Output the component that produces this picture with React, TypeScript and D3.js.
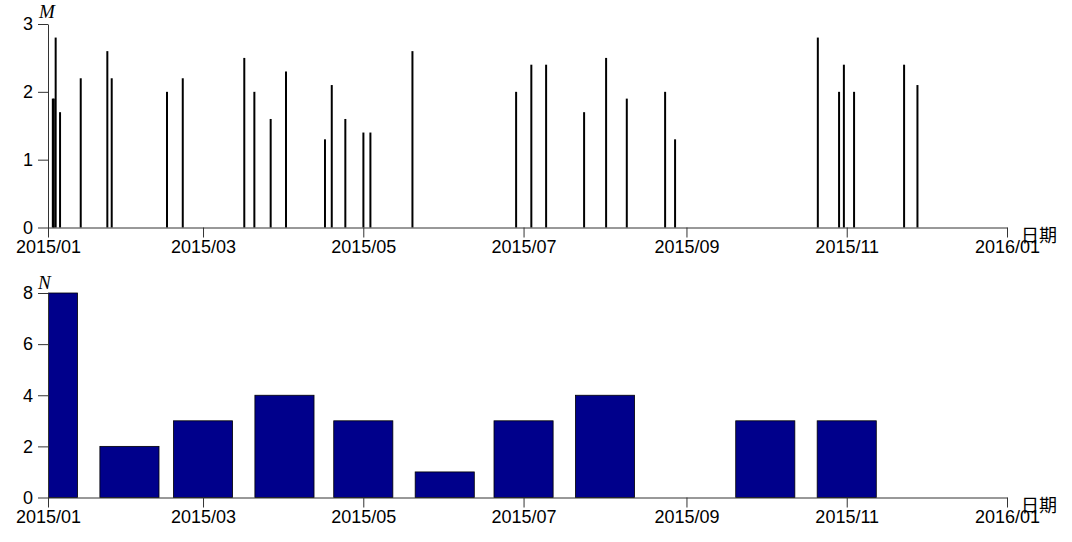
import React, { useEffect, useRef } from "react";
import * as d3 from "d3";

// ---- data ----
const eventTimes = [
  "2015-01-02T20:00", "2015-01-03T05:00", "2015-01-03T22:00", "2015-01-05T14:00",
  "2015-01-13T11:00", "2015-01-23T14:00", "2015-01-25T06:00",
  "2015-02-15T07:00", "2015-02-21T07:00",
  "2015-03-16T17:00", "2015-03-20T13:00", "2015-03-26T18:00",
  "2015-04-01T14:00", "2015-04-16T10:00", "2015-04-19T00:00", "2015-04-24T04:00",
  "2015-05-01T01:00", "2015-05-03T17:00", "2015-05-19T17:00",
  "2015-06-28T04:00",
  "2015-07-03T23:00", "2015-07-09T14:00", "2015-07-24T01:00",
  "2015-08-01T10:00", "2015-08-09T07:00", "2015-08-23T21:00", "2015-08-27T16:00",
  "2015-10-21T00:00", "2015-10-29T02:00", "2015-10-30T22:00",
  "2015-11-03T19:00", "2015-11-22T20:00", "2015-11-27T22:00",
];
const magnitudes = [
  1.9, 1.9, 2.8, 1.7,
  2.2, 2.6, 2.2,
  2.0, 2.2,
  2.5, 2.0, 1.6,
  2.3, 1.3, 2.1, 1.6,
  1.4, 1.4, 2.6,
  2.0,
  2.4, 2.4, 1.7,
  2.5, 1.9, 2.0, 1.3,
  2.8, 2.0, 2.4,
  2.0, 2.4, 2.1,
];
const months = [
  "2015-01-01", "2015-02-01", "2015-03-01", "2015-04-01", "2015-05-01", "2015-06-01",
  "2015-07-01", "2015-08-01", "2015-09-01", "2015-10-01", "2015-11-01", "2015-12-01",
];
const monthCounts = [8, 2, 3, 4, 3, 1, 3, 4, 0, 3, 3, 0];
const xTickDates = ["2015-01-01", "2015-03-01", "2015-05-01", "2015-07-01", "2015-09-01", "2015-11-01", "2016-01-01"];
const xTickLabels = ["2015/01", "2015/03", "2015/05", "2015/07", "2015/09", "2015/11", "2016/01"];
const magTicks = [0, 1, 2, 3];
const countTicks = [0, 2, 4, 6, 8];
const xAxisName = "日期";
const topYName = "M";
const bottomYName = "N";

const parse = (s: string) => new Date(s + (s.length === 10 ? "T00:00" : ""));

const W = 1072;
const H = 542;
const left = 48;
const right = 1007;

export default function App() {
  const topXRef = useRef<SVGGElement>(null);
  const topYRef = useRef<SVGGElement>(null);
  const botXRef = useRef<SVGGElement>(null);
  const botYRef = useRef<SVGGElement>(null);

  const x = d3.scaleTime().domain([parse("2015-01-01"), parse("2016-01-01")]).range([left, right]);
  const yTop = d3.scaleLinear().domain([0, 3]).range([227.5, 24]);
  const yBot = d3.scaleLinear().domain([0, 8]).range([497.5, 293]);
  const barHalfDays = 11.25;

  useEffect(() => {
    const fmt = (d: Date) => {
      const i = xTickDates.findIndex((t) => parse(t).getTime() === d.getTime());
      return i >= 0 ? xTickLabels[i] : "";
    };
    const xAxis = d3.axisBottom(x).tickValues(xTickDates.map(parse)).tickFormat(fmt as any).tickSize(10).tickSizeOuter(0).tickPadding(3);
    const styleAxis = (g: any) => {
      g.selectAll("path,line").attr("stroke", "#333").attr("stroke-width", 1);
      g.selectAll("text").attr("fill", "#000").attr("font-size", 18).attr("font-family", "Liberation Sans, Arial, sans-serif");
      g.attr("font-size", 18);
    };
    d3.select(topXRef.current).call(xAxis as any).call(styleAxis);
    d3.select(botXRef.current).call(xAxis as any).call(styleAxis);
    d3.select(topYRef.current).call(d3.axisLeft(yTop).tickValues(magTicks).tickFormat(d3.format("d")).tickSize(10).tickSizeOuter(0).tickPadding(5) as any).call(styleAxis);
    d3.select(botYRef.current).call(d3.axisLeft(yBot).tickValues(countTicks).tickFormat(d3.format("d")).tickSize(10).tickSizeOuter(0).tickPadding(5) as any).call(styleAxis);
  }, []);

  const events = eventTimes.map((t, i) => ({ t: parse(t), m: magnitudes[i] }));
  const bars = months.map((m, i) => ({ t: parse(m), n: monthCounts[i] }));

  return (
    <svg width={W} height={H} style={{ position: "absolute", left: 0, top: 0, background: "#fff" }}>
      <defs>
        <clipPath id="plotClip">
          <rect x={left} y={0} width={right - left} height={H} />
        </clipPath>
      </defs>
      {/* top chart: magnitude lines */}
      <g>
        {events.map((e, i) => (
          <line key={i} x1={x(e.t)} x2={x(e.t)} y1={yTop(0)} y2={yTop(e.m)} stroke="#000" strokeWidth={2} />
        ))}
      </g>
      <g ref={topXRef} transform={`translate(0,${yTop(0)})`} />
      <g ref={topYRef} transform={`translate(${left},0)`} />
      <text x={39} y={18} fontFamily="Liberation Serif, Times New Roman, serif" fontStyle="italic" fontSize={19}>{topYName}</text>
      <text x={1021} y={242} fontFamily="Noto Sans CJK SC, sans-serif" fontSize={18}>{xAxisName}</text>

      {/* bottom chart: monthly counts */}
      <g clipPath="url(#plotClip)">
        {bars.filter((b) => b.n > 0).map((b, i) => {
          const x0 = x(d3.timeHour.offset(b.t, -barHalfDays * 24));
          const x1 = x(d3.timeHour.offset(b.t, barHalfDays * 24));
          return (
            <rect key={i} x={x0} y={yBot(b.n)} width={x1 - x0} height={yBot(0) - yBot(b.n)} fill="#00008B" stroke="#000" strokeWidth={0.8} />
          );
        })}
      </g>
      <g ref={botXRef} transform={`translate(0,${yBot(0)})`} />
      <g ref={botYRef} transform={`translate(${left},0)`} />
      <text x={38} y={289} fontFamily="Liberation Serif, Times New Roman, serif" fontStyle="italic" fontSize={19}>{bottomYName}</text>
      <text x={1021} y={512} fontFamily="Noto Sans CJK SC, sans-serif" fontSize={18}>{xAxisName}</text>
    </svg>
  );
}
